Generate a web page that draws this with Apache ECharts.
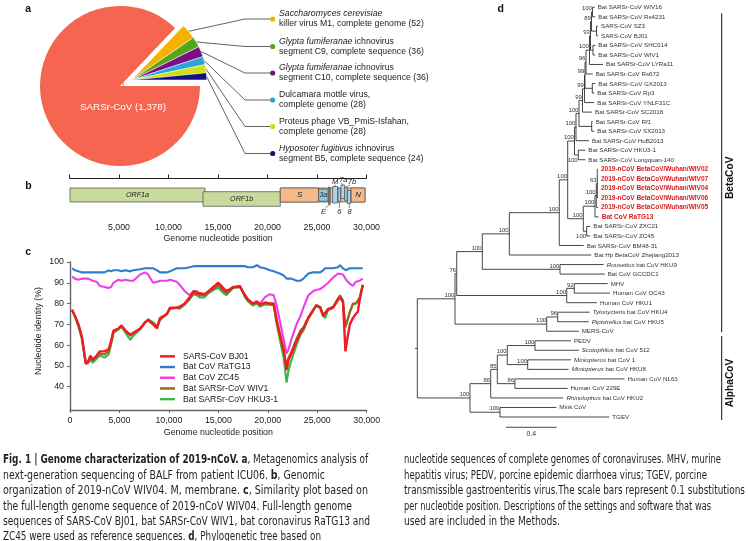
<!DOCTYPE html>
<html><head><meta charset="utf-8">
<script src="https://cdn.jsdelivr.net/npm/echarts@6/dist/echarts.min.js"></script>
<style>
html,body{margin:0;padding:0;background:#fff;}
#chart{position:absolute;left:0;top:0;width:748px;height:541px;}
.cap{position:absolute;top:452.3px;font-family:'Liberation Sans Narrow','DejaVu Sans Condensed','Roboto Condensed','Liberation Sans',sans-serif;font-size:12px;line-height:15.4px;color:#231f20;white-space:nowrap;}
.cap div{transform-origin:0 0;}
.cap b{font-weight:bold;}
</style></head><body>
<div id="chart"></div>
<div class="cap" id="capL" style="left:3px">
<div><b>Fig. 1 | Genome characterization of 2019-nCoV.</b> <b>a</b>, Metagenomics analysis of</div>
<div>next-generation sequencing of BALF from patient ICU06. <b>b</b>, Genomic</div>
<div>organization of 2019-nCoV WIV04. M, membrane. <b>c</b>, Similarity plot based on</div>
<div>the full-length genome sequence of 2019-nCoV WIV04. Full-length genome</div>
<div>sequences of SARS-CoV BJ01, bat SARSr-CoV WIV1, bat coronavirus RaTG13 and</div>
<div>ZC45 were used as reference sequences. <b>d</b>, Phylogenetic tree based on</div>
</div>
<div class="cap" id="capR" style="left:404px">
<div>nucleotide sequences of complete genomes of coronaviruses. MHV, murine</div>
<div>hepatitis virus; PEDV, porcine epidemic diarrhoea virus; TGEV, porcine</div>
<div>transmissible gastroenteritis virus.The scale bars represent 0.1 substitutions</div>
<div>per nucleotide position. Descriptions of the settings and software that was</div>
<div>used are included in the Methods.</div>
</div>
<script>
// ================= DATA =================
// (a) metagenomics read counts
const pieNames = ['SARSr-CoV',
  'Saccharomyces cerevisiae killer virus M1, complete genome',
  'Glypta fumiferanae ichnovirus segment C9, complete sequence',
  'Glypta fumiferanae ichnovirus segment C10, complete sequence',
  'Dulcamara mottle virus, complete genome',
  'Proteus phage VB_PmiS-Isfahan, complete genome',
  'Hyposoter fugitivus ichnovirus segment B5, complete sequence'];
const pieValues = [1378, 52, 36, 36, 28, 28, 24];
const pieLabelLines = [null,
  ['*Saccharomyces cerevisiae*', 'killer virus M1, complete genome'],
  ['*Glypta fumiferanae* ichnovirus', 'segment C9, complete sequence'],
  ['*Glypta fumiferanae* ichnovirus', 'segment C10, complete sequence'],
  ['Dulcamara mottle virus,', 'complete genome'],
  ['Proteus phage VB_PmiS-Isfahan,', 'complete genome'],
  ['*Hyposoter fugitivus* ichnovirus', 'segment B5, complete sequence']];

// (b) genome organization (nt)
const geneNames = ['ORF1a','ORF1b','S','3a','E','M','6','7a','7b','8','N'];
const geneStart = [50, 13485, 21290, 25170, 26180, 26580, 27130, 27420, 27800, 28080, 28450];
const geneEnd   = [13690, 21290, 25170, 26110, 26330, 27080, 27380, 27800, 28050, 28400, 29850];

// (c) similarity plot
const simPositions = [200,500,850,1200,1450,1600,1850,2050,2300,2700,3000,3500,3900,4150,4400,4900,5200,5600,6100,6400,7100,7600,7900,8400,8800,9100,9800,10100,10800,11100,11600,12100,12500,12800,13100,13600,14000,14500,15000,15300,15800,16200,16500,17200,17700,18000,18500,18900,19200,19700,20200,20600,20900,21200,21600,21900,22100,22400,22900,23300,23600,24100,24600,24900,25300,25600,25800,26100,26600,27100,27300,27600,27850,28000,28300,28600,28900,29100,29300,29600];
const simBJ01 = [77,74,70,64,56,51,52,55,53,55, 57,57,58,62,67,68,69.5,67,65,66, 68,71,72,70,68,73,75,78,78,78.5, 80,83,86,85,85,84.5,86,88,90,88.5, 86,87,88,88,84,82,80,81,79.5,80.5, 80,80,72,66,58,48,53,56,62,66, 68,73,77,79,78,74,73.5,77,78,82, 83,81,57,62,70,73,75,76,82,89];
const simRaTG13 = [97,96,95.5,95,95,95,95,95,95,95, 95,95,96,95.5,96,96,95.5,96,95.5,96, 96.5,97,97,97,96,95,95,95.5,97,97, 97,97.5,98,98,98,98,98,98,98,98, 98,98,98,98,98,97.5,97.5,98.5,97.5,97, 96,95.5,95,94.5,93.5,92,92,92,91,91, 92,94.5,95,95,95,96,97,97,97,97.5, 98.5,97,96,96,97,97,97,97,97,97];
const simZC45 = [93,92,91.5,92,92,92,92,91.5,91,90.5, 88.5,88,87.5,88,90,91.5,91,91.5,91,91, 94,95,94,90,90.5,91,91,91.5,90.5,89, 86,84,86,86,85,84,85,87,87.5,86.5, 85,86.5,88,88,84,81.5,80,81,80,83, 84.5,84,79,72,63,56,58,63,70,74, 78,84,86,86.5,87,88,88.5,90,92.5,94.5, 95,94,92,91,89.5,88.5,90.5,90,91,92];
const simWIV1 = [77,74,70,64,56,51.5,52.5,54,52.5,54.5, 56,55.5,57,61,66.5,68,69,67,64.5,65.5, 68,71,72,70.5,69,72.5,75,77.5,78,78, 80,82.5,85,84.5,84,84,85.5,87,89,87.5, 85,86.5,88,88.5,83.5,81.5,80,80.5,79.5,80, 80,79.5,71.5,65,57,50,54,57,63,67, 68.5,73.5,77,79,78.5,74.5,74,77.5,78.5,82.5, 84,81.5,69,71,76,80,80,81,83,89];
const simHKU31 = [77,73.5,69,63,55,51,51.5,53,51.5,53.5, 55,54,55.5,60,66,67.5,69,66,62.5,64.5, 67.5,71,72.5,71,69,72,75,77.5,78,77.5, 79.5,82,84.5,84,83,83,85,86.5,88,86, 84,86,87.5,88,83,81,79,80,78.5,79.5, 79.5,79,70,63,54,42,48,53,60,65, 67,73,76.5,79.5,78,74,73,77,78,81.5, 83,80.5,68.5,71,76,79.5,80,80.5,83,88.5];
const simSeriesNames = ['SARS-CoV BJ01','Bat CoV RaTG13','Bat CoV ZC45','Bat SARSr-CoV WIV1','Bat SARSr-CoV HKU3-1'];
const identityTicks = [40, 50, 60, 70, 80, 90, 100];

// (d) phylogeny (Newick: bootstrap support as internal labels, branch lengths in substitutions/site)
const treeNewick = `(((((((((((((((((((Bat SARSr-CoV WIV16:0.0174,Bat SARSr-CoV Rs4231:0.0221)100:0.0079,
(SARS-CoV SZ3:0.0118,SARS-CoV BJ01:0.0118):0.0395)89:0.0079,
(Bat SARSr-CoV SHC014:0.0181,Bat SARSr-CoV WIV1:0.0181):0.0197)93:0.0079,
Bat SARSr-CoV LYRa11:0.1066)100:0.0276,
Bat SARSr-CoV Rs672:0.0529)96:0.0079,
(Bat SARSr-CoV GX2013:0.0237,Bat SARSr-CoV Rp3:0.0158):0.0576)99:0.0040,
Bat SARSr-CoV YNLF31C:0.0773)99:0.0157,
Bat SARSr-CoV SC2018:0.0750)99:0.0277,
(Bat SARSr-CoV Rf1:0.0079,Bat SARSr-CoV SX2013:0.0205):0.1003)100:0.0237,
Bat SARSr-CoV HuB2013:0.1027)100:0.0118,
(Bat SARSr-CoV HKU3-1:0.0553,Bat SARSr-CoV Longquan-140:0.0553)100:0.0300)100:0.0537,
((((2019-nCoV BetaCoV/Wuhan/WIV02:0.0055,2019-nCoV BetaCoV/Wuhan/WIV07:0.0055,2019-nCoV BetaCoV/Wuhan/WIV04:0.0055,2019-nCoV BetaCoV/Wuhan/WIV06:0.0055)63:0.0079,
2019-nCoV BetaCoV/Wuhan/WIV05:0.0134)100:0.0103,
Bat CoV RaTG13:0.0292)100:0.0923,
(Bat SARSr-CoV ZXC21:0.0284,Bat SARSr-CoV ZC45:0.0284)100:0.0268)100:0.1232)100:0.0663,
Bat SARSr-CoV BM48-31:0.1926)100:0.3946,
Bat Hp BetaCoV Zhejiang2013:0.6472)100:0.2131,
(*Rousettus* bat CoV HKU9:0.3449,Bat CoV GCCDC1:0.3528)100:0.6133)100:0.2020,
((MHV:0.2637,Human CoV OC43:0.2818)92:0.0599,
Human CoV HKU1:0.2391)100:0.8682)76:0.0134,
((*Tylonycteris* bat CoV HKU4:0.2526,*Pipistrellus* bat CoV HKU5:0.2447)96:0.0868,
MERS-CoV:0.2526)100:0.7237)100:0.2976,
(((((PEDV:0.2841,*Scotophilus* bat CoV 512:0.3449)100:0.2186,
(*Miniopterus* bat CoV 1:0.3418,*Miniopterus* bat CoV HKU8:0.3236)100:0.1610)100:0.0789,
(Human CoV NL63:0.8658,Human CoV 229E:0.4159)86:0.1389)85:0.0521,
*Rhinolophus* bat CoV HKU2:0.5738)86:0.1634,
(Mink CoV:0.4444,TGEV:0.8627)100:0.2368)100:0.4159);`;
const highlightedLeaves = ['2019-nCoV BetaCoV/Wuhan/WIV02','2019-nCoV BetaCoV/Wuhan/WIV07','2019-nCoV BetaCoV/Wuhan/WIV04','2019-nCoV BetaCoV/Wuhan/WIV06','2019-nCoV BetaCoV/Wuhan/WIV05','Bat CoV RaTG13'];
const cladeNames = ['BetaCoV', 'AlphaCoV'];
const cladeFirstLeaf = [0, 35];
const cladeLastLeaf = [34, 43];
const scaleBarLength = 0.4;

// ================= STYLE / LAYOUT =================
const FONT = 'Liberation Sans, Arial, Helvetica, sans-serif';
const pieColors = ['#F6654F','#F6B200','#58A515','#7A0E86','#2CA3D6','#CEE010','#14137E'];
const simColors = {'SARS-CoV BJ01':'#EE1D23','Bat CoV RaTG13':'#2F7BCF','Bat CoV ZC45':'#F03DE8','Bat SARSr-CoV WIV1':'#A0601C','Bat SARSr-CoV HKU3-1':'#3DB54A'};
const calloutY = [19, 46.5, 73, 100, 126.5, 153.5];
const captionWidthsL = [365, 322, 365, 349, 367, 318];
const captionWidthsR = [317, 303, 341, 307, 156];
const geneStyle = {
  ORF1a:{fill:'#C8DB9C', y:[10,24], lab:'in'},
  ORF1b:{fill:'#C8DB9C', y:[13.7,28.3], lab:'in'},
  S:{fill:'#F6BA88', y:[10,24], lab:'in'},
  '3a':{fill:'#8FC6E4', y:[11,23.3], lab:'in'},
  E:{fill:'#5A8FB0', y:[9,26.5], lab:'below', dx:-6},
  M:{fill:'#A9D5EE', y:[8.5,25], lab:'above', dx:0},
  '6':{fill:'#A9D5EE', y:[10.3,23.7], lab:'below', dx:0},
  '7a':{fill:'#A9D5EE', y:[7,20.5], lab:'above', dx:0.5, ly:1.5},
  '7b':{fill:'#A9D5EE', y:[9.3,22.7], lab:'above', dx:6},
  '8':{fill:'#A9D5EE', y:[12.5,25.5], lab:'below', dx:0.5},
  N:{fill:'#F6BA88', y:[10,24], lab:'in'}
};
const supportBelowFor = ['Bat SARSr-CoV HKU3-1','Bat SARSr-CoV ZXC21'];

function fmt(v){ return String(v).replace(/\B(?=(\d{3})+(?!\d))/g, ','); }
function richFromStars(s){
  const parts = s.split('*'); let out = '';
  parts.forEach((p,k)=>{ if(p) out += '{' + (k%2 ? 'i' : 'n') + '|' + p + '}'; });
  return out;
}

// ---- tree parsing / layout ----
function parseNewick(str){
  const s = str.replace(/\n\s*/g,''); let i = 0;
  function node(){
    const n = {children:[]};
    if(s[i]==='('){ i++; n.children.push(node()); while(s[i]===','){ i++; n.children.push(node()); } i++; }
    let name=''; while(i<s.length && ',):;'.indexOf(s[i])<0) name += s[i++];
    n.name = name.trim(); n.len = 0;
    if(s[i]===':'){ i++; let l=''; while(i<s.length && ',);'.indexOf(s[i])<0) l += s[i++]; n.len = parseFloat(l); }
    return n;
  }
  return node();
}
const treeRoot = parseNewick(treeNewick);
const treeNodes = []; let leafCounter = 0;
function layoutTree(n, px){
  n.px = px; n.x = px + n.len;
  if(!n.children.length){ n.y = leafCounter++; }
  else {
    n.children.forEach(c => layoutTree(c, n.x));
    n.yMin = n.children[0].y; n.yMax = n.children[n.children.length-1].y;
    n.y = (n.yMin + n.yMax)/2;
  }
  treeNodes.push(n);
}
treeRoot.len = 0.018; layoutTree(treeRoot, -0.018);

// ---- gene features (structural block background derived from S start to N end) ----
const geneFeatures = [];
geneFeatures.push({name:'', start:geneStart[2], end:geneEnd[10], style:{fill:'#F6BA88', y:[10,24]}});
geneNames.forEach((g,i)=> geneFeatures.push({name:g, start:geneStart[i], end:geneEnd[i], style:geneStyle[g]}));

// ================= CHART =================
const chart = echarts.init(document.getElementById('chart'), null, {renderer:'canvas'});

function renderGene(params, api){
  const f = geneFeatures[params.dataIndex], st = f.style;
  const p0 = api.coord([f.start, st.y[0]]), p1 = api.coord([f.end, st.y[1]]);
  const els = [{type:'rect', shape:{x:p0[0], y:p0[1], width:p1[0]-p0[0], height:p1[1]-p0[1]}, style:{fill:st.fill, stroke:'#4a4a4a', lineWidth:0.7}}];
  if(f.name){
    const cx = (p0[0]+p1[0])/2, cy = (p0[1]+p1[1])/2;
    const txt = {fill:'#222', fontFamily:FONT, fontStyle:'italic', fontSize:(f.name.length>2?7.2:7.8), align:'center', verticalAlign:'middle'};
    if(st.lab==='in'){
      els.push({type:'text', x:cx, y:cy, style:Object.assign({text:f.name}, txt, f.name==='3a'?{fontSize:7}:{})});
    } else if(st.lab==='above'){
      const ly = api.coord([0, st.ly!=null?st.ly:3.5])[1];
      const lx = cx + (st.dx||0);
      els.push({type:'text', x:lx, y:ly, style:Object.assign({text:f.name}, txt, {fontSize:7.5})});
      els.push({type:'line', shape:{x1:lx-(st.dx?2:0), y1:ly+3.3, x2:cx, y2:p0[1]}, style:{stroke:'#333', lineWidth:0.6}});
    } else {
      const ly = api.coord([0, 33.5])[1];
      const lx = cx + (st.dx||0);
      els.push({type:'text', x:lx, y:ly, style:Object.assign({text:f.name}, txt, {fontSize:7.5})});
      els.push({type:'line', shape:{x1:lx+(st.dx<-1?2:0), y1:ly-3.6, x2:cx, y2:p1[1]}, style:{stroke:'#333', lineWidth:0.6}});
    }
  }
  return {type:'group', children:els};
}

function renderTree(params, api){
  const n = treeNodes[params.dataIndex];
  const a = api.coord([n.px, n.y]), b = api.coord([n.x, n.y]);
  const ls = {stroke:'#262626', lineWidth:0.85};
  const els = [{type:'line', shape:{x1:a[0], y1:b[1], x2:b[0], y2:b[1]}, style:ls}];
  if(n.children.length){
    const t = api.coord([n.x, n.yMin]), u = api.coord([n.x, n.yMax]);
    els.push({type:'line', shape:{x1:b[0], y1:t[1], x2:b[0], y2:u[1]}, style:ls});
    if(n.name){
      const below = supportBelowFor.indexOf(n.children[0].name) >= 0;
      els.push({type:'text', x:b[0]-0.6, y: below ? b[1]+5 : b[1]-3.4,
        style:{text:n.name, fill:'#333', fontFamily:FONT, fontSize:6, align:'right', verticalAlign:'middle'}});
    }
  } else {
    const hi = highlightedLeaves.indexOf(n.name) >= 0;
    const base = {fill: hi ? '#D7191C' : '#333', fontFamily:FONT, fontSize: hi ? 6.5 : 6.2, fontWeight: hi ? 'bold' : 'normal'};
    els.push({type:'text', x:b[0]+3, y:b[1]+0.3, style:Object.assign({text:richFromStars(n.name), align:'left', verticalAlign:'middle',
      rich:{i:Object.assign({}, base, {fontStyle:'italic'}), n:Object.assign({}, base)}}, base)});
  }
  return {type:'group', children:els};
}

function renderClade(params, api){
  const i = params.dataIndex;
  const pad = i===0 ? [6, 1] : [-4.8, 3];
  const t = api.coord([2.4026, cladeFirstLeaf[i]]), u = api.coord([2.4026, cladeLastLeaf[i]]);
  const y1 = t[1]+pad[0], y2 = u[1]+pad[1];
  return {type:'group', children:[
    {type:'line', shape:{x1:t[0], y1:y1, x2:t[0], y2:y2}, style:{stroke:'#111', lineWidth:1}},
    {type:'text', x:t[0]+8.6, y:(y1+y2)/2+5, rotation:Math.PI/2,
      style:{text:cladeNames[i], fill:'#111', fontFamily:FONT, fontSize:10.2, fontWeight:'bold', align:'center', verticalAlign:'middle'}}
  ]};
}

function renderScaleBar(params, api){
  const a = api.coord([0.70, 44.08]), b = api.coord([0.70 + scaleBarLength, 44.08]);
  return {type:'group', children:[
    {type:'line', shape:{x1:a[0], y1:a[1], x2:b[0], y2:b[1]}, style:{stroke:'#333', lineWidth:0.9}},
    {type:'text', x:(a[0]+b[0])/2, y:a[1]+6.5, style:{text:String(scaleBarLength), fill:'#333', fontFamily:FONT, fontSize:6.8, align:'center', verticalAlign:'middle'}}
  ]};
}

const pieRich = {
  i:{fontStyle:'italic', fontSize:8.7, lineHeight:10.2, color:'#222', fontFamily:FONT},
  n:{fontSize:8.7, lineHeight:10.2, color:'#222', fontFamily:FONT}
};

const simArrays = [simBJ01, simRaTG13, simZC45, simWIV1, simHKU31];
const drawOrder = [1, 2, 4, 3, 0];
const lineSeries = drawOrder.map((k, z) => ({
  type:'line', name:simSeriesNames[k], xAxisIndex:1, yAxisIndex:1, symbol:'none', silent:true, z:2+z,
  data: simPositions.map((x,j)=>[x, simArrays[k][j]]),
  lineStyle:{color:simColors[simSeriesNames[k]], width: k===0 ? 2.4 : 2.1},
  itemStyle:{color:simColors[simSeriesNames[k]]}
}));

const option = {
  animation:false,
  textStyle:{fontFamily:FONT},
  grid:[
    {left:69.5, top:178, width:297, height:40.3},
    {left:70, top:262, width:296.7, height:148},
    {left:417.3, top:7.3, width:253.4, height:409.7}
  ],
  xAxis:[
    {gridIndex:0, type:'value', min:0, max:30000, interval:5000,
      axisLine:{lineStyle:{color:'#222', width:1}}, axisTick:{inside:true, length:3.5, lineStyle:{color:'#222'}},
      axisLabel:{fontSize:8.8, color:'#222', margin:4.5, formatter:v=> v===0 ? '' : fmt(v)}, splitLine:{show:false},
      name:'Genome nucleotide position', nameLocation:'middle', nameGap:15.5, nameTextStyle:{fontSize:8.8, color:'#222'}},
    {gridIndex:1, type:'value', min:0, max:30000, interval:5000,
      axisLine:{lineStyle:{color:'#666', width:1.4}}, axisTick:{length:3, lineStyle:{color:'#666'}},
      axisLabel:{fontSize:8.8, color:'#222', margin:6, formatter:v=>fmt(v)}, splitLine:{show:false},
      name:'Genome nucleotide position', nameLocation:'middle', nameGap:18.5, nameTextStyle:{fontSize:8.8, color:'#222'}},
    {gridIndex:2, type:'value', min:0, max:2, show:false}
  ],
  yAxis:[
    {gridIndex:0, type:'value', min:0, max:40.3, inverse:true, show:false},
    {gridIndex:1, type:'value', min:28.8, max:100,
      axisLine:{show:true, lineStyle:{color:'#666', width:1.4}},
      axisTick:{show:true, length:3, customValues:identityTicks, lineStyle:{color:'#666'}},
      axisLabel:{fontSize:8.8, color:'#222', margin:6, customValues:identityTicks}, splitLine:{show:false},
      name:'Nucleotide identity (%)', nameLocation:'middle', nameGap:27, nameTextStyle:{fontSize:8.8, color:'#222', padding:[0,0,0,10]}},
    {gridIndex:2, type:'value', min:0, max:43, inverse:true, show:false}
  ],
  legend:{data:simSeriesNames.map(n=>({name:n, icon:'rect'})), orient:'vertical', left:160, top:351, itemWidth:15, itemHeight:2.4, itemGap:0, padding:0,
    textStyle:{fontSize:8.7, color:'#222', lineHeight:10.7, padding:[0,0,0,3]}, selectedMode:false},
  graphic:[
    {type:'text', x:25.2, y:9, style:{text:'a', fontSize:10.5, fontWeight:'bold', fontFamily:FONT, fill:'#111', verticalAlign:'middle'}},
    {type:'text', x:25.2, y:186.5, style:{text:'b', fontSize:10.5, fontWeight:'bold', fontFamily:FONT, fill:'#111', verticalAlign:'middle'}},
    {type:'text', x:25.2, y:252.5, style:{text:'c', fontSize:10.5, fontWeight:'bold', fontFamily:FONT, fill:'#111', verticalAlign:'middle'}},
    {type:'text', x:497.5, y:9, style:{text:'d', fontSize:10.5, fontWeight:'bold', fontFamily:FONT, fill:'#111', verticalAlign:'middle'}}
  ],
  series:[
    {type:'pie', name:'reads', center:[120,86], radius:80, startAngle:0, clockwise:true, silent:true, avoidLabelOverlap:false,
      data: pieValues.map((v,i)=> i===0 ?
        {value:v, name:pieNames[0], itemStyle:{color:pieColors[0]},
          label:{show:true, position:'inside', formatter: pieNames[0]+' ('+fmt(v)+')', color:'#fff', fontSize:9.8, fontFamily:FONT}}
        : {value:v, name:pieNames[i], itemStyle:{color:'rgba(0,0,0,0)'},
          label:{show:true, position:'outside', formatter:'{d|}', rich:{d:{width:5.2, height:5.2, borderRadius:2.6, backgroundColor:pieColors[i]}}},
          labelLine:{show:false}}),
      labelLayout: p => p.dataIndex===0 ? {x:123, y:107, align:'center', verticalAlign:'middle'}
                                        : {x:272.7, y:calloutY[p.dataIndex-1], align:'center', verticalAlign:'middle'}
    },
    {type:'pie', name:'reads2', center:[131.7,80], radius:75, startAngle:0, clockwise:true, silent:true, avoidLabelOverlap:false,
      data: pieValues.map((v,i)=> i===0 ?
        {value:v, name:pieNames[0], itemStyle:{color:'rgba(0,0,0,0)'}, label:{show:false}, labelLine:{show:false}}
        : {value:v, name:pieNames[i], itemStyle:{color:pieColors[i], borderColor:'#fff', borderWidth:0.5},
          label:{show:true, position:'outside', rich:pieRich,
            formatter: richFromStars(pieLabelLines[i][0]) + '\n' + richFromStars(pieLabelLines[i][1] + ' (' + v + ')')},
          labelLine:{show:true, length:5, length2:5, smooth:false, lineStyle:{color:'#3a3a3a', width:0.8}}}),
      labelLayout: p => {
        if(p.dataIndex===0) return {};
        const y = calloutY[p.dataIndex-1];
        const s = p.labelLinePoints ? p.labelLinePoints[0] : [200, y];
        return {x:279, y:y, align:'left', verticalAlign:'middle', labelLinePoints:[[s[0], s[1]], [245, y], [270.5, y]]};
      }
    },
    {type:'custom', name:'genome', xAxisIndex:0, yAxisIndex:0, silent:true, clip:false,
      data: geneFeatures.map(f=>[f.start, f.end]), encode:{x:[0,1]}, renderItem:renderGene},
    ...lineSeries,
    {type:'custom', name:'tree', xAxisIndex:2, yAxisIndex:2, silent:true, clip:false,
      data: treeNodes.map(n=>[n.x, n.y, n.px]), encode:{x:[0,2], y:1}, renderItem:renderTree},
    {type:'custom', name:'clades', xAxisIndex:2, yAxisIndex:2, silent:true, clip:false,
      data: cladeNames.map((c,i)=>[2.4026, cladeFirstLeaf[i], cladeLastLeaf[i]]), encode:{x:0, y:[1,2]}, renderItem:renderClade},
    {type:'custom', name:'scalebar', xAxisIndex:2, yAxisIndex:2, silent:true, clip:false,
      data:[[0.70, 44.08]], encode:{x:0, y:1}, renderItem:renderScaleBar}
  ]
};
chart.setOption(option);

// caption: fit each condensed line to the reference column layout
function fitCaption(id, widths){
  const lines = document.getElementById(id).children;
  for(let k=0; k<lines.length; k++){
    const r = document.createRange(); r.selectNodeContents(lines[k]);
    const tw = r.getBoundingClientRect().width;
    if(tw > 0) lines[k].style.transform = 'scaleX(' + (widths[k] / tw) + ')';
  }
}
fitCaption('capL', captionWidthsL);
fitCaption('capR', captionWidthsR);
</script>
</body></html>
